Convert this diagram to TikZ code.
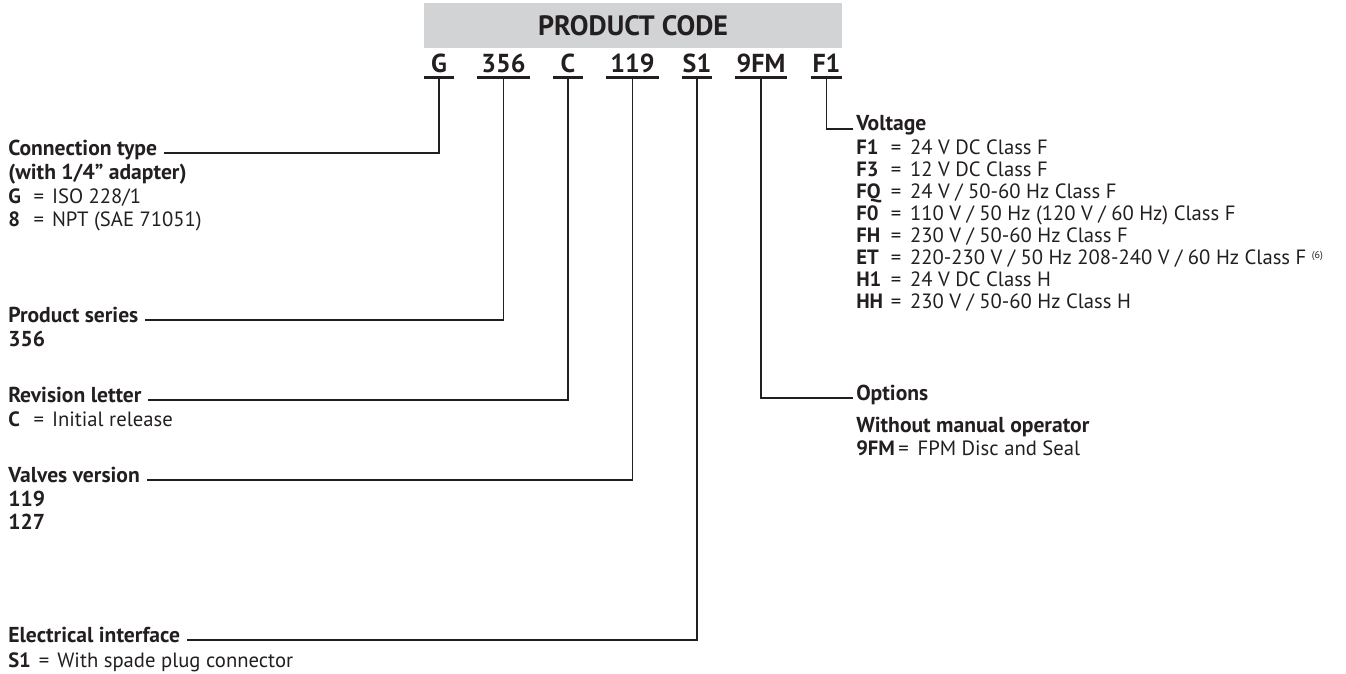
\documentclass[tikz,border=0pt]{standalone}
\usepackage{fontspec}
\setmainfont{PT Sans}
\definecolor{txt}{HTML}{231F20}
\definecolor{boxgray}{HTML}{D1D3D4}
\newcommand{\lrow}[2]{\makebox[19pt][l]{\textbf{#1}}=\hspace{6pt}#2}
\newcommand{\rrow}[2]{\makebox[26pt][l]{\textbf{#1}}=\hspace{6.5pt}#2}
\begin{document}
\begin{tikzpicture}[x=0.75pt,y=-0.75pt,
  font=\fontsize{15.5}{17}\selectfont, text=txt,
  code/.style={font=\fontsize{19.5}{21}\selectfont\bfseries, anchor=base, inner sep=0pt},
  uline/.style={draw=txt, line width=1.9pt},
  conn/.style={draw=txt, line width=1.4pt},
  head/.style={font=\fontsize{16.2}{18}\selectfont\bfseries, anchor=base west, inner sep=0pt},
  row/.style={anchor=base west, inner sep=0pt}]
\useasboundingbox (0,0) rectangle (1346,674);

% title box
\node[fill=boxgray, minimum width=313.5pt, minimum height=33.75pt, inner sep=0pt,
      font=\fontsize{21}{23}\selectfont\bfseries] (title) at (633,25.5) {PRODUCT CODE};

% code letters
\node[code, minimum width=22.5pt] (cG)  at (439,73) {G};
\node[code, minimum width=39.75pt] (c356) at (503.5,73) {356};
\node[code, minimum width=22.5pt] (cC)  at (568,73) {C};
\node[code, minimum width=39.75pt] (c119) at (632.5,73) {119};
\node[code, minimum width=22.5pt] (cS)  at (697,73) {S1};
\node[code, minimum width=39pt] (c9FM) at (761,73) {9FM};
\node[code, minimum width=23.25pt] (cF)  at (826.5,73) {F1};
\foreach \n in {cG,c356,cC,c119,cS,c9FM,cF}
  \draw[uline] ([yshift=-3.2pt]\n.base west) -- ([yshift=-3.2pt]\n.base east);

% left headings
\node[head] (hConn) at (8,155) {Connection type};
\node[head] (hConn2) at (8,179) {(with 1/4” adapter)};
\node[row] (rG) at (8,203) {\lrow{G}{ISO 228/1}};
\node[row] (r8) at (8,226) {\lrow{8}{NPT (SAE 71051)}};

\node[head] (hSer) at (8,322) {Product series};
\node[head] (r356) at (8,346) {356};

\node[head] (hRev) at (8,402) {Revision letter};
\node[row] (rC) at (8,426) {\lrow{C}{Initial release}};

\node[head] (hVal) at (8,482) {Valves version};
\node[head] (r119) at (8,506) {119};
\node[head] (r127) at (8,529) {127};

\node[head] (hEl) at (8,642) {Electrical interface};
\node[row] (rS1) at (8,667) {\textbf{S1}\hspace{6pt}=\hspace{6pt}With spade plug connector};

% right headings
\node[head] (hVolt) at (856,131) {Voltage};
\node[row] (v1) at (856,154) {\rrow{F1}{24 V DC Class F}};
\node[row] (v2) at (856,176) {\rrow{F3}{12 V DC Class F}};
\node[row] (v3) at (856,198) {\rrow{FQ}{24 V / 50-60 Hz Class F}};
\node[row] (v4) at (856,220) {\rrow{F0}{110 V / 50 Hz (120 V / 60 Hz) Class F}};
\node[row] (v5) at (856,242) {\rrow{FH}{230 V / 50-60 Hz Class F}};
\node[row] (v6) at (856,264) {\rrow{ET}{220-230 V / 50 Hz 208-240 V / 60 Hz Class F \raisebox{4pt}{\fontsize{7.5}{9}\selectfont(6)}}};
\node[row] (v7) at (856,286) {\rrow{H1}{24 V DC Class H}};
\node[row] (v8) at (856,308) {\rrow{HH}{230 V / 50-60 Hz Class H}};

\node[head] (hOpt) at (856,400) {Options};
\node[head] (hOpt2) at (856,432) {Without manual operator};
\node[row] (o1) at (856,455) {\textbf{9FM}\,=\hspace{6.5pt}FPM Disc and Seal};

% connectors
\draw[conn] ([yshift=-3.2pt]cG.base)   |- ([xshift=5pt,yshift=1.5pt]hConn.base east);
\draw[conn] ([yshift=-3.2pt]c356.base) |- ([xshift=5pt,yshift=1.5pt]hSer.base east);
\draw[conn] ([yshift=-3.2pt]cC.base)   |- ([xshift=5pt,yshift=1.5pt]hRev.base east);
\draw[conn] ([yshift=-3.2pt]c119.base) |- ([xshift=5pt,yshift=1.5pt]hVal.base east);
\draw[conn] ([yshift=-3.2pt]cS.base)   |- ([xshift=5pt,yshift=1.5pt]hEl.base east);
\draw[conn] ([yshift=-3.2pt]c9FM.base) |- ([xshift=-2pt,yshift=1.5pt]hOpt.base west);
\draw[conn] ([yshift=-3.2pt]cF.base)   |- ([xshift=-2pt,yshift=1.5pt]hVolt.base west);
\end{tikzpicture}
\end{document}
